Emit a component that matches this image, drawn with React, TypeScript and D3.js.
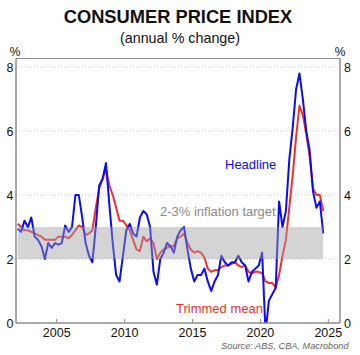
import React from "react";
import * as d3 from "d3";

const startYear = 2002;
const headline = [
  2.95, 2.85, 3.2, 3.0,
  3.3, 2.7, 2.6, 2.4,
  2.0, 2.5, 2.35, 2.5,
  2.45, 2.5, 3.05, 2.85,
  3.0, 4.0, 4.0, 3.3,
  2.5, 2.1, 1.9, 3.0,
  4.3, 4.5, 5.0, 3.7,
  2.5, 1.5, 1.3, 2.1,
  2.9, 3.1, 2.8, 2.7,
  3.3, 3.5, 3.4, 3.0,
  1.6, 1.2, 2.0, 2.2,
  2.5, 2.4, 2.2, 2.7,
  2.9, 3.0, 2.3, 1.7,
  1.3, 1.5, 1.5, 1.7,
  1.3, 1.0, 1.3, 1.5,
  2.1, 1.9, 1.8, 1.9,
  1.9, 2.1, 1.9, 1.8,
  1.3, 1.6, 1.7, 1.8,
  2.2, -0.3, 0.7, 0.9,
  1.1, 3.8, 3.0, 3.5,
  5.1, 6.1, 7.3, 7.8,
  7.0, 6.0, 5.4, 4.1,
  3.6, 3.8, 2.8,
];
const trimmedMean = [
  3.1, 3.0, 2.9, 2.9,
  2.85, 2.8, 2.75, 2.7,
  2.6, 2.6, 2.6, 2.6,
  2.7, 2.7, 2.7, 2.65,
  2.75, 2.9, 3.05, 3.0,
  2.75, 2.8, 2.9, 3.6,
  4.2, 4.5, 4.8, 4.3,
  4.0, 3.6, 3.2, 3.2,
  3.05, 2.9, 2.6, 2.3,
  2.25, 2.7, 2.55, 2.65,
  2.5, 2.0, 2.2, 2.3,
  2.35, 2.4, 2.4, 2.65,
  2.7, 2.8, 2.5, 2.3,
  2.2, 2.25, 2.2, 2.05,
  1.7, 1.6, 1.65, 1.65,
  1.75, 1.8, 1.8, 1.85,
  1.9, 1.8, 1.75, 1.8,
  1.6, 1.55, 1.6, 1.6,
  1.55, 1.3, 1.25, 1.25,
  1.1, 1.5, 2.1, 2.6,
  3.6, 4.6, 5.8, 6.8,
  6.5, 5.9, 5.2, 4.2,
  4.0, 4.0, 3.5,
];
const xTicks = [2005, 2010, 2015, 2020, 2025];
const yTicks = [0, 2, 4, 6, 8];
const gridTicks = [2, 4, 6, 8];
const targetBand = [2, 3];

// quarter mid-points (year + fraction)
const times = headline.map((_, i) => startYear + Math.floor(i / 4) + (i % 4) * 0.25 + 0.125);

const W = 360;
const H = 355;
const left = 16;
const right = 340;
const top = 58.5;
const bottom = 323;
const font = "'Liberation Sans', Arial, Helvetica, sans-serif";

export default function App() {
  const x = d3.scaleLinear().domain([2002.0, 2025.86]).range([left, right]);
  const y = d3.scaleLinear().domain([0, 8.27]).range([bottom, top]);

  const lineGen = d3
    .line<number>()
    .x((_, i) => x(times[i]))
    .y((d) => y(d));

  const blueCol = "#0a0aff";
  const redCol = "#f2302a";
  const axisCol = "#8c8c8c";

  return (
    <svg
      width={W}
      height={H}
      style={{ position: "absolute", left: 0, top: 0, background: "#fff" }}
      fontFamily={font}
    >
      <defs>
        <clipPath id="plotClip">
          <rect x={left} y={top} width={right - left} height={bottom - top} />
        </clipPath>
      </defs>

      {/* title */}
      <text x={178} y={23} textAnchor="middle" fontSize={18.3} fontWeight="bold" fill="#111">
        CONSUMER PRICE INDEX
      </text>
      <text x={180} y={43} textAnchor="middle" fontSize={14.3} fill="#111">
        (annual % change)
      </text>

      {/* gridlines */}
      {gridTicks.map((t) => (
        <line
          key={"g" + t}
          x1={left}
          x2={right}
          y1={y(t)}
          y2={y(t)}
          stroke="#c8c8c8"
          strokeWidth={1}
          strokeDasharray="1,2"
        />
      ))}

      {/* lines */}
      <g clipPath="url(#plotClip)">
        <path d={lineGen(trimmedMean) || ""} fill="none" stroke={redCol} strokeWidth={2} strokeLinejoin="round" />
        <path d={lineGen(headline) || ""} fill="none" stroke={blueCol} strokeWidth={2} strokeLinejoin="round" />
      </g>

      {/* target band */}
      <rect
        x={x(times[0])}
        width={x(times[times.length - 1]) - x(times[0])}
        y={y(targetBand[1])}
        height={y(targetBand[0]) - y(targetBand[1])}
        fill="#a0a0a0"
        fillOpacity={0.45}
      />

      {/* labels */}
      <text x={225} y={169} fontSize={13} fill={blueCol}>
        Headline
      </text>
      <text x={160} y={216} fontSize={13} fill="#8a8a8a">
        2-3% inflation target
      </text>
      <text x={176} y={312.5} fontSize={13} fill={redCol}>
        Trimmed mean
      </text>

      {/* frame */}
      <line x1={left} x2={right} y1={top} y2={top} stroke={axisCol} strokeWidth={1} />
      <line x1={left} x2={left} y1={top} y2={bottom} stroke={axisCol} strokeWidth={1.5} />
      <line x1={right} x2={right} y1={top} y2={bottom} stroke={axisCol} strokeWidth={1.5} />
      <line x1={left} x2={right} y1={bottom} y2={bottom} stroke={axisCol} strokeWidth={1.5} />

      {/* x ticks */}
      {xTicks.map((t) => (
        <g key={"x" + t}>
          <line x1={x(t)} x2={x(t)} y1={bottom} y2={bottom - 4} stroke={axisCol} strokeWidth={1} />
          <text x={x(t)} y={336.5} textAnchor="middle" fontSize={12.5} fill="#111">
            {t}
          </text>
        </g>
      ))}

      {/* y ticks */}
      {yTicks.map((t) => (
        <g key={"y" + t}>
          <text x={13.5} y={y(t) + 4.5} textAnchor="end" fontSize={12.5} fill="#111">
            {t}
          </text>
          <text x={344} y={y(t) + 4.5} textAnchor="start" fontSize={12.5} fill="#111">
            {t}
          </text>
        </g>
      ))}
      <text x={15} y={55.5} textAnchor="middle" fontSize={12} fill="#111">
        %
      </text>
      <text x={340} y={55.5} textAnchor="middle" fontSize={12} fill="#111">
        %
      </text>

      {/* source */}
      <text x={348.5} y={348.5} textAnchor="end" fontSize={9.2} fontStyle="italic" fill="#666">
        Source: ABS, CBA, Macrobond
      </text>
    </svg>
  );
}
